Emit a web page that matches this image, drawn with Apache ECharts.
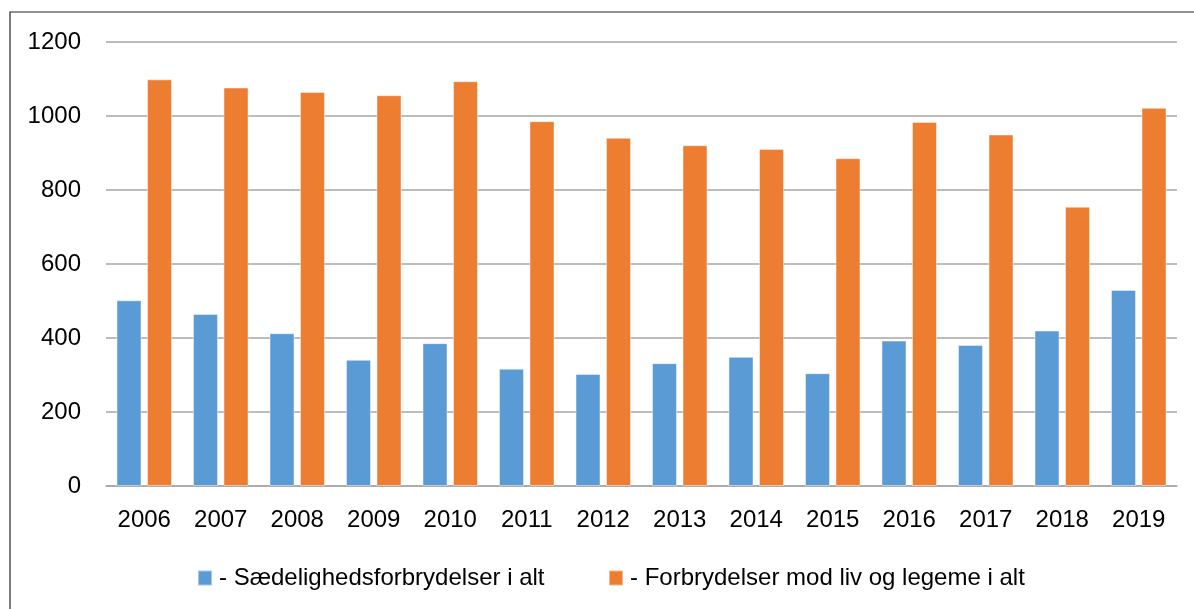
<!DOCTYPE html>
<html>
<head>
<meta charset="utf-8">
<script src="https://cdn.jsdelivr.net/npm/echarts@6/dist/echarts.min.js"></script>
<style>
html, body { margin: 0; padding: 0; background: #fff; }
#mainchart { width: 1194px; height: 609px; }
</style>
</head>
<body>
<div id="mainchart"></div>
<script>
var years = ['2006', '2007', '2008', '2009', '2010', '2011', '2012', '2013', '2014', '2015', '2016', '2017', '2018', '2019'];
var saedelighed = [502, 465, 413, 341, 386, 317, 303, 332, 349, 305, 393, 381, 420, 530];
var livLegeme = [1099, 1077, 1065, 1056, 1094, 986, 941, 921, 911, 886, 984, 950, 755, 1022];
var seriesNames = ['- Sædelighedsforbrydelser i alt', '- Forbrydelser mod liv og legeme i alt'];

var font = 'Liberation Sans, Arial, sans-serif';
var chart = echarts.init(document.getElementById('mainchart'));

var option = {
	animation: false,
	color: ['#5B9BD5', '#ED7D31'],
	textStyle: { fontFamily: font },
	graphic: [{
		type: 'rect',
		shape: { x: 10, y: 12, width: 1300, height: 700 },
		style: { fill: 'none', stroke: '#262626', lineWidth: 1.2 },
		silent: true
	}],
	grid: {
		left: 106,
		right: 17,
		top: 42,
		bottom: 123,
		containLabel: false,
		outerBoundsMode: 'none'
	},
	legend: [{
		left: 197,
		top: 566,
		padding: 0,
		data: [seriesNames[0]],
		itemWidth: 14,
		itemHeight: 15,
		icon: 'rect',
		itemGap: 0,
		textStyle: { fontSize: 24, color: '#000', fontFamily: font, padding: [0, 0, 0, 2] }
	}, {
		left: 608,
		top: 566,
		padding: 0,
		data: [seriesNames[1]],
		itemWidth: 14,
		itemHeight: 15,
		icon: 'rect',
		itemGap: 0,
		textStyle: { fontSize: 24, color: '#000', fontFamily: font, padding: [0, 0, 0, 2] }
	}],
	xAxis: {
		type: 'category',
		data: years,
		axisLine: { lineStyle: { color: '#A6A6A6', width: 1.5 } },
		axisTick: { show: false },
		axisLabel: { fontSize: 24, color: '#000', margin: 22, fontFamily: font }
	},
	yAxis: {
		type: 'value',
		min: 0,
		max: 1200,
		interval: 200,
		axisLine: { show: false },
		axisTick: { show: false },
		axisLabel: {
			fontSize: 24, color: '#000', margin: 25, fontFamily: font,
			formatter: function (v) { return String(v); }
		},
		splitLine: { lineStyle: { color: '#A6A6A6', width: 1.5 } }
	},
	series: [{
		name: seriesNames[0],
		type: 'bar',
		data: saedelighed,
		barWidth: 25,
		barGap: '22%',
		itemStyle: { borderColor: 'rgba(255,255,255,0.45)', borderWidth: 1 }
	}, {
		name: seriesNames[1],
		type: 'bar',
		data: livLegeme,
		barWidth: 25,
		barGap: '22%',
		itemStyle: { borderColor: 'rgba(255,255,255,0.45)', borderWidth: 1 }
	}]
};
chart.setOption(option);
</script>
</body>
</html>
